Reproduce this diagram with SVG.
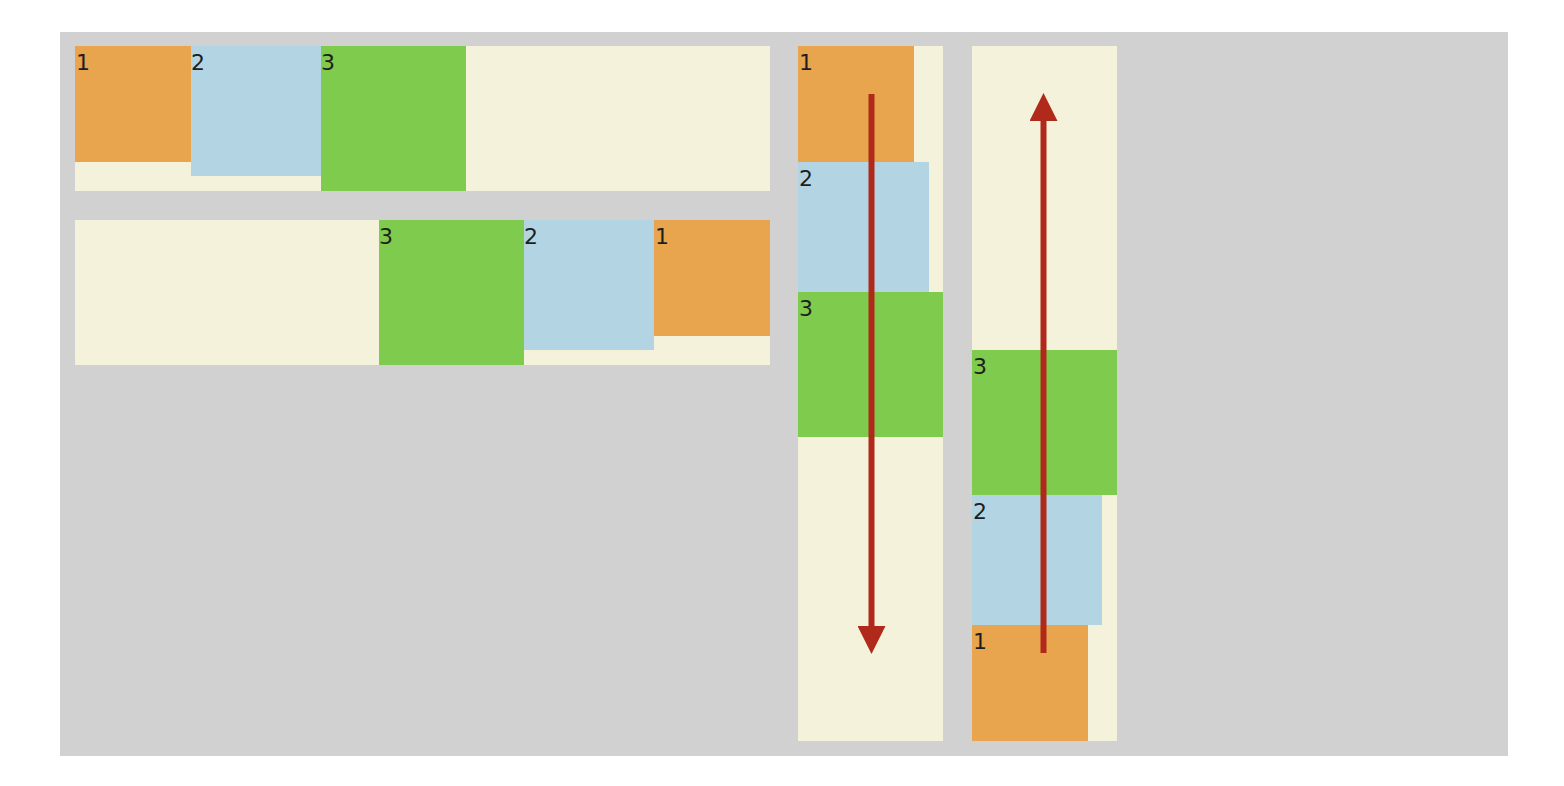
<svg xmlns="http://www.w3.org/2000/svg" width="1564" height="786" viewBox="0 0 1564 786">
<defs>
<style>
.bg{fill:#d1d1d1}
.box{fill:#f5f2dc}
.o{fill:#e8a54e}
.b{fill:#b3d4e3}
.g{fill:#7fcb4e}
.t{font-family:"DejaVu Sans",sans-serif;font-size:22px;fill:#1e1e1e}
.arr{stroke:#b02a1b;stroke-width:6;fill:none}
</style>
<marker id="ah" viewBox="0 0 10 10" refX="0" refY="5" markerWidth="28" markerHeight="28" markerUnits="userSpaceOnUse" orient="auto">
<path d="M0,0 L10,5 L0,10 Z" fill="#b02a1b"/>
</marker>
</defs>
<rect class="bg" x="60" y="32" width="1448" height="724"/>
<g id="row1">
<rect class="box" x="75" y="46" width="695" height="145"/>
<g id="r1-item1"><rect class="o" x="75" y="46" width="116" height="116"/><text class="t" x="76" y="70">1</text></g>
<g id="r1-item2"><rect class="b" x="191" y="46" width="130" height="130"/><text class="t" x="191" y="70">2</text></g>
<g id="r1-item3"><rect class="g" x="321" y="46" width="145" height="145"/><text class="t" x="321" y="70">3</text></g>
</g>
<g id="row2">
<rect class="box" x="75" y="220" width="695" height="145"/>
<g id="r2-item3"><rect class="g" x="379" y="220" width="145" height="145"/><text class="t" x="379" y="244">3</text></g>
<g id="r2-item2"><rect class="b" x="524" y="220" width="130" height="130"/><text class="t" x="524" y="244">2</text></g>
<g id="r2-item1"><rect class="o" x="654" y="220" width="116" height="116"/><text class="t" x="655" y="244">1</text></g>
</g>
<g id="col1">
<rect class="box" x="798" y="46" width="145" height="695"/>
<g id="c1-item1"><rect class="o" x="798" y="46" width="116" height="116"/><text class="t" x="799" y="70">1</text></g>
<g id="c1-item2"><rect class="b" x="798" y="162" width="131" height="130"/><text class="t" x="799" y="186">2</text></g>
<g id="c1-item3"><rect class="g" x="798" y="292" width="145" height="145"/><text class="t" x="799" y="316">3</text></g>
</g>
<g id="col2">
<rect class="box" x="972" y="46" width="145" height="695"/>
<g id="c2-item3"><rect class="g" x="972" y="350" width="145" height="145"/><text class="t" x="973" y="374">3</text></g>
<g id="c2-item2"><rect class="b" x="972" y="495" width="130" height="130"/><text class="t" x="973" y="519">2</text></g>
<g id="c2-item1"><rect class="o" x="972" y="625" width="116" height="116"/><text class="t" x="973" y="649">1</text></g>
</g>
<g id="connectors">
<line class="arr" x1="871.5" y1="94" x2="871.5" y2="626" marker-end="url(#ah)"/>
<line class="arr" x1="1043.5" y1="653" x2="1043.5" y2="121" marker-end="url(#ah)"/>
</g>
</svg>
